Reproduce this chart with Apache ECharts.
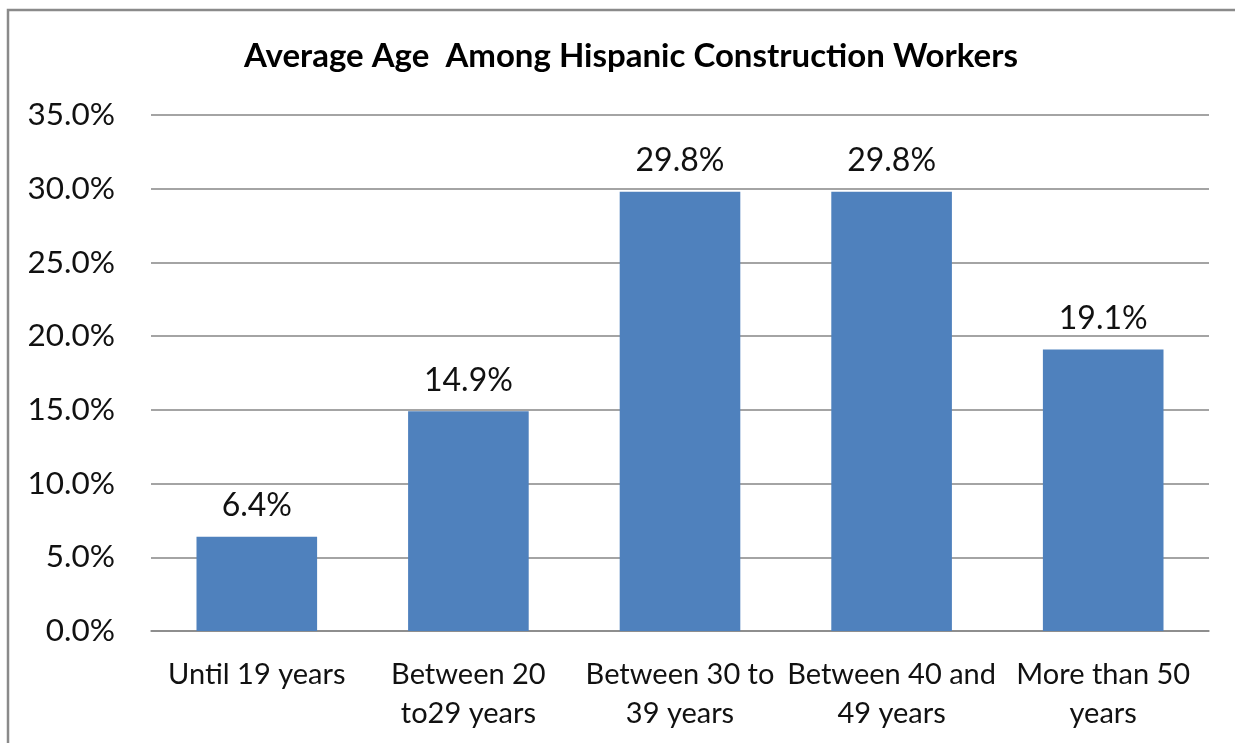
<!DOCTYPE html>
<html>
<head>
<meta charset="utf-8">
<script src="https://cdn.jsdelivr.net/npm/echarts@6/dist/echarts.min.js"></script>
<style>
  html, body { margin: 0; padding: 0; background: #fff; }
  #chart { width: 1235px; height: 743px; }
</style>
</head>
<body>
<div id="chart"></div>
<script>
// Share of Hispanic construction workers by age group
const categories = [
  'Until 19 years',
  'Between 20\nto29 years',
  'Between 30 to\n39 years',
  'Between 40 and\n49 years',
  'More than 50\nyears'
];
const shares = [6.4, 14.9, 29.8, 29.8, 19.1];
const titleText = 'Average Age  Among Hispanic Construction Workers';

const FONT = 'Lato, "Open Sans", sans-serif';
const chart = echarts.init(document.getElementById('chart'), null, { renderer: 'canvas' });

chart.setOption({
  backgroundColor: '#ffffff',
  animation: false,
  graphic: [{
    type: 'rect',
    shape: { x: 8, y: 10, width: 1250, height: 760 },
    style: { fill: 'none', stroke: '#8a8a8a', lineWidth: 2.5 },
    silent: true
  }],
  title: {
    text: titleText,
    left: 626,
    textAlign: 'center',
    top: 35,
    textStyle: { fontFamily: FONT, fontWeight: 'bold', fontSize: 33, color: '#000' }
  },
  grid: { left: 151, right: 26, top: 115, bottom: 112 },
  xAxis: {
    type: 'category',
    data: categories,
    axisLine: { lineStyle: { color: '#868686', width: 1.5 } },
    axisTick: { show: false },
    axisLabel: {
      interval: 0,
      margin: 24,
      fontFamily: FONT,
      fontSize: 29,
      lineHeight: 39,
      color: '#111'
    }
  },
  yAxis: {
    type: 'value',
    min: 0,
    max: 35,
    interval: 5,
    axisLine: { show: false },
    axisTick: { show: false },
    splitLine: { lineStyle: { color: '#868686', width: 1.5 } },
    axisLabel: {
      margin: 36,
      fontFamily: FONT,
      fontSize: 31.5,
      color: '#111',
      formatter: v => v.toFixed(1) + '%'
    }
  },
  series: [{
    type: 'bar',
    data: shares,
    barWidth: '57%',
    itemStyle: { color: '#4f81bd' },
    label: {
      show: true,
      position: 'top',
      distance: 15,
      fontFamily: FONT,
      fontSize: 32,
      color: '#111',
      formatter: p => p.value.toFixed(1) + '%'
    }
  }]
});
</script>
</body>
</html>
